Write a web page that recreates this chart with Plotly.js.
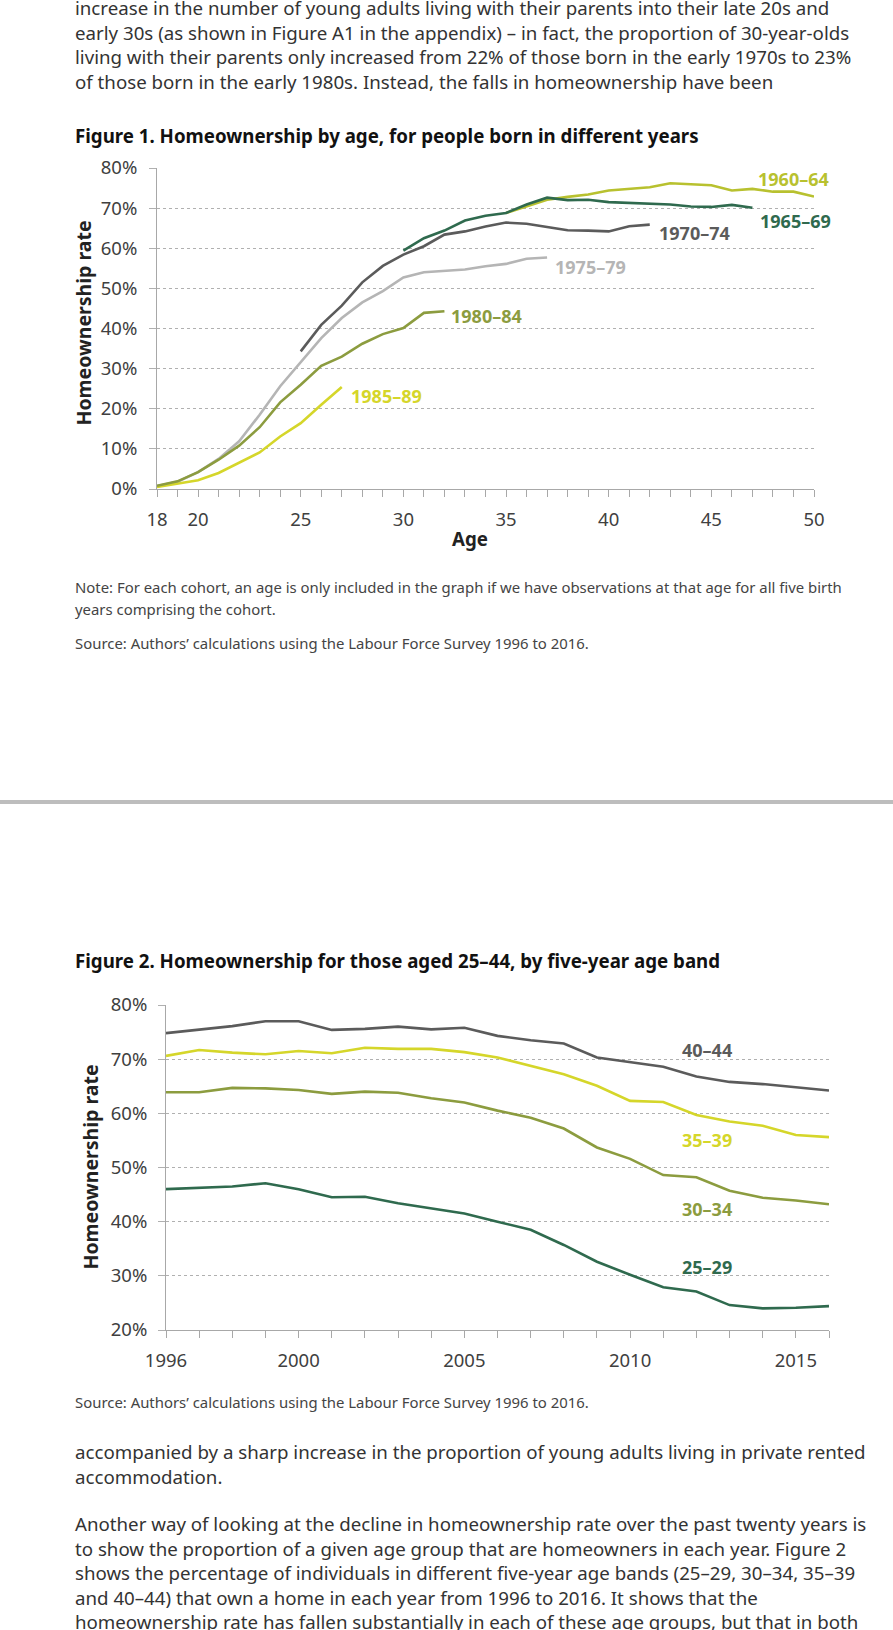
<!DOCTYPE html>
<html>
<head>
<meta charset="utf-8">
<script src="https://cdn.plot.ly/plotly-3.0.1.min.js"></script>
<style>
  html, body { margin:0; padding:0; background:#fff; }
  body { width:893px; height:1630px; position:relative; overflow:hidden; font-family:"Noto Sans", "Open Sans", sans-serif; }
  .t { position:absolute; left:75px; white-space:nowrap; color:#333; }
  .body { font-size:18.7px; line-height:24.6px; }
  .small { font-size:14.9px; line-height:21.5px; color:#444; }
  .ftitle { font-size:18.7px; font-weight:700; color:#111; line-height:24px; }
  .divider { position:absolute; left:0; top:800px; width:893px; height:4px; background:#bdbdbd; }
  #fig1 { position:absolute; left:0; top:150px; width:893px; height:420px; }
  #fig2 { position:absolute; left:0; top:990px; width:893px; height:400px; }
</style>
</head>
<body>
<div class="t body" style="top:-4px;">increase in the number of young adults living with their parents into their late 20s and<br>early 30s (as shown in Figure A1 in the appendix) – in fact, the proportion of 30-year-olds<br>living with their parents only increased from 22% of those born in the early 1970s to 23%<br>of those born in the early 1980s. Instead, the falls in homeownership have been</div>
<div class="t ftitle" style="top:124px;">Figure 1. Homeownership by age, for people born in different years</div>
<div id="fig1"></div>
<div class="t small" style="top:577px;">Note: For each cohort, an age is only included in the graph if we have observations at that age for all five birth<br>years comprising the cohort.</div>
<div class="t small" style="top:633px;">Source: Authors’ calculations using the Labour Force Survey 1996 to 2016.</div>
<div class="divider"></div>
<div class="t ftitle" style="top:949px;">Figure 2. Homeownership for those aged 25–44, by five-year age band</div>
<div id="fig2"></div>
<div class="t small" style="top:1392px;">Source: Authors’ calculations using the Labour Force Survey 1996 to 2016.</div>
<div class="t body" style="top:1440px;">accompanied by a sharp increase in the proportion of young adults living in private rented<br>accommodation.</div>
<div class="t body" style="top:1512px;">Another way of looking at the decline in homeownership rate over the past twenty years is<br>to show the proportion of a given age group that are homeowners in each year. Figure 2<br>shows the percentage of individuals in different five-year age bands (25–29, 30–34, 35–39<br>and 40–44) that own a home in each year from 1996 to 2016. It shows that the<br>homeownership rate has fallen substantially in each of these age groups, but that in both</div>

<script>
// ---------- Figure 1 data ----------
const ages6064 = [35,36,37,38,39,40,41,42,43,44,45,46,47,48,49,50];
const rate6064 = [68.8,70.5,72.1,72.8,73.4,74.4,74.8,75.2,76.2,75.9,75.7,74.4,74.8,74.1,74.1,72.9];
const ages6569 = [30,31,32,33,34,35,36,37,38,39,40,41,42,43,44,45,46,47];
const rate6569 = [59.4,62.5,64.4,66.9,68.1,68.8,70.9,72.6,72.0,72.1,71.5,71.3,71.2,70.9,70.4,70.3,70.8,70.1];
const ages7074 = [25,26,27,28,29,30,31,32,33,34,35,36,37,38,39,40,41,42];
const rate7074 = [34.3,40.9,45.7,51.5,55.6,58.4,60.5,63.4,64.2,65.4,66.4,66.1,65.3,64.5,64.4,64.2,65.5,65.9];
const ages7579 = [18,19,20,21,22,23,24,25,26,27,28,29,30,31,32,33,34,35,36,37];
const rate7579 = [0.7,1.8,4.2,7.5,11.9,18.5,25.6,31.6,37.6,42.6,46.5,49.3,52.7,54.0,54.3,54.7,55.5,56.1,57.4,57.7];
const ages8084 = [18,19,20,21,22,23,24,25,26,27,28,29,30,31,32];
const rate8084 = [0.8,1.9,4.2,7.3,10.8,15.4,21.6,26.0,30.7,33.0,36.2,38.6,40.1,43.9,44.3];
const ages8589 = [18,19,20,21,22,23,24,25,26,27];
const rate8589 = [0.5,1.3,2.2,4.0,6.5,9.1,13.1,16.4,21.0,25.4];

const cohortNames = ["1960–64","1965–69","1970–74","1975–79","1980–84","1985–89"];
const ageTickVals = [18,19,20,21,22,23,24,25,26,27,28,29,30,31,32,33,34,35,36,37,38,39,40,41,42,43,44,45,46,47,48,49,50];
const ageTickLabels = ["18","","20","","","","","25","","","","","30","","","","","35","","","","","40","","","","","45","","","","","50"];
const pctTicks1 = [0,10,20,30,40,50,60,70,80];
const pctLabels1 = ["0%","10%","20%","30%","40%","50%","60%","70%","80%"];

// ---------- Figure 2 data ----------
const years = [1996,1997,1998,1999,2000,2001,2002,2003,2004,2005,2006,2007,2008,2009,2010,2011,2012,2013,2014,2015,2016];
const band4044 = [74.8,75.4,76.1,77.0,77.0,75.4,75.6,76.0,75.5,75.8,74.3,73.5,72.9,70.3,69.4,68.6,66.8,65.8,65.4,64.8,64.2];
const band3539 = [70.6,71.7,71.2,70.9,71.5,71.1,72.1,71.9,71.9,71.3,70.3,68.7,67.2,65.1,62.3,62.1,59.7,58.5,57.7,56.0,55.6];
const band3034 = [63.9,63.9,64.7,64.6,64.3,63.6,64.0,63.8,62.8,62.0,60.5,59.2,57.2,53.7,51.6,48.6,48.2,45.7,44.4,43.9,43.2];
const band2529 = [46.0,46.2,46.5,47.1,46.0,44.5,44.6,43.4,42.4,41.5,40.0,38.5,35.7,32.6,30.2,27.9,27.1,24.6,24.0,24.1,24.4];
const bandNames = ["40–44","35–39","30–34","25–29"];
const yearTickLabels = ["1996","","","","2000","","","","","2005","","","","","2010","","","","","2015",""];
const pctTicks2 = [20,30,40,50,60,70,80];
const pctLabels2 = ["20%","30%","40%","50%","60%","70%","80%"];

// ---------- styles ----------
const C_6064 = "#b8c12f", C_6569 = "#2f6a4e", C_7074 = "#5b5b5b", C_7579 = "#b5b5b5", C_8084 = "#8c9c3f", C_8589 = "#d5d62a";
const FONT = "Noto Sans, Open Sans, sans-serif";
const GRID = "#b0b0b0";
const AXIS = "#a8a8a8";
const TICKSIZE = 18.5;
const LABSIZE = 18;
const YTITLESIZE = 19.5;

function line(x, y, color, name) {
  return { x: x, y: y, type: "scatter", mode: "lines", name: name,
           line: { color: color, width: 2.6 }, hoverinfo: "skip" };
}
function lab(x, y, text, color) {
  return { x: x, y: y, xref: "x", yref: "y", text: "<b>" + text + "</b>", showarrow: false,
           font: { family: FONT, size: LABSIZE, color: color }, xanchor: "center", yanchor: "middle" };
}

const traces1 = [
  line(ages7579, rate7579, C_7579, cohortNames[3]),
  line(ages8589, rate8589, C_8589, cohortNames[5]),
  line(ages8084, rate8084, C_8084, cohortNames[4]),
  line(ages7074, rate7074, C_7074, cohortNames[2]),
  line(ages6064, rate6064, C_6064, cohortNames[0]),
  line(ages6569, rate6569, C_6569, cohortNames[1])
];

const layout1 = {
  width: 893, height: 420,
  margin: { l: 157, r: 79, t: 18, b: 81, pad: 0 },
  paper_bgcolor: "rgba(0,0,0,0)", plot_bgcolor: "rgba(0,0,0,0)",
  showlegend: false,
  font: { family: FONT, color: "#404040", size: TICKSIZE },
  xaxis: {
    range: [18, 50], tickmode: "array", tickvals: ageTickVals, ticktext: ageTickLabels,
    showgrid: false, zeroline: false, showline: true, linecolor: AXIS, linewidth: 1,
    ticks: "outside", ticklen: 7, tickcolor: AXIS, tickwidth: 1, ticklabelstandoff: 7,
    tickfont: { family: FONT, size: TICKSIZE, color: "#404040" }, fixedrange: true
  },
  yaxis: {
    range: [0, 80], tickmode: "array", tickvals: pctTicks1, ticktext: pctLabels1,
    showgrid: true, gridcolor: GRID, griddash: "3px,3px", gridwidth: 1,
    zeroline: false, showline: true, linecolor: AXIS, linewidth: 1,
    ticks: "outside", ticklen: 7, tickcolor: GRID, ticklabelstandoff: 8,
    tickfont: { family: FONT, size: TICKSIZE, color: "#404040" }, fixedrange: true
  },
  annotations: [
    lab(48.98, 77.2, cohortNames[0], C_6064),
    lab(49.12, 66.7, cohortNames[1], C_6569),
    lab(44.2, 63.9, cohortNames[2], C_7074),
    lab(39.09, 55.4, cohortNames[3], C_7579),
    lab(34.07, 43.0, cohortNames[4], C_8084),
    lab(29.2, 23.3, cohortNames[5], C_8589),
    { xref: "paper", yref: "paper", x: 0, y: 0.5, xshift: -74, yshift: 5, text: "<b>Homeownership rate</b>",
      textangle: -90, showarrow: false, font: { family: FONT, size: YTITLESIZE, color: "#222" }, xanchor: "center", yanchor: "middle" },
    { xref: "paper", yref: "paper", x: (470 - 157) / 657, y: 0, yshift: -49, text: "<b>Age</b>",
      showarrow: false, font: { family: FONT, size: 18.7, color: "#222" }, xanchor: "center", yanchor: "middle" }
  ]
};

Plotly.newPlot("fig1", traces1, layout1, { staticPlot: true, displayModeBar: false });

const traces2 = [
  line(years, band2529, C_6569, bandNames[3]),
  line(years, band3034, C_8084, bandNames[2]),
  line(years, band3539, C_8589, bandNames[1]),
  line(years, band4044, C_7074, bandNames[0])
];

const layout2 = {
  width: 893, height: 400,
  margin: { l: 166, r: 64, t: 15, b: 60, pad: 0 },
  paper_bgcolor: "rgba(0,0,0,0)", plot_bgcolor: "rgba(0,0,0,0)",
  showlegend: false,
  font: { family: FONT, color: "#404040", size: TICKSIZE },
  xaxis: {
    range: [1996, 2016], tickmode: "array", tickvals: years, ticktext: yearTickLabels,
    showgrid: false, zeroline: false, showline: true, linecolor: AXIS, linewidth: 1,
    ticks: "outside", ticklen: 7, tickcolor: AXIS, tickwidth: 1, ticklabelstandoff: 7,
    tickfont: { family: FONT, size: TICKSIZE, color: "#404040" }, fixedrange: true
  },
  yaxis: {
    range: [20, 80], tickmode: "array", tickvals: pctTicks2, ticktext: pctLabels2,
    showgrid: true, gridcolor: GRID, griddash: "3px,3px", gridwidth: 1,
    zeroline: false, showline: true, linecolor: AXIS, linewidth: 1,
    ticks: "outside", ticklen: 7, tickcolor: GRID, ticklabelstandoff: 7,
    tickfont: { family: FONT, size: TICKSIZE, color: "#404040" }, fixedrange: true
  },
  annotations: [
    lab(2012.32, 71.7, bandNames[0], C_7074),
    lab(2012.32, 55.1, bandNames[1], C_8589),
    lab(2012.32, 42.3, bandNames[2], C_8084),
    lab(2012.32, 31.6, bandNames[3], C_6569),
    { xref: "paper", yref: "paper", x: 0, y: 0.5, xshift: -76, text: "<b>Homeownership rate</b>",
      textangle: -90, showarrow: false, font: { family: FONT, size: YTITLESIZE, color: "#222" }, xanchor: "center", yanchor: "middle" }
  ]
};

Plotly.newPlot("fig2", traces2, layout2, { staticPlot: true, displayModeBar: false });
</script>
</body>
</html>
